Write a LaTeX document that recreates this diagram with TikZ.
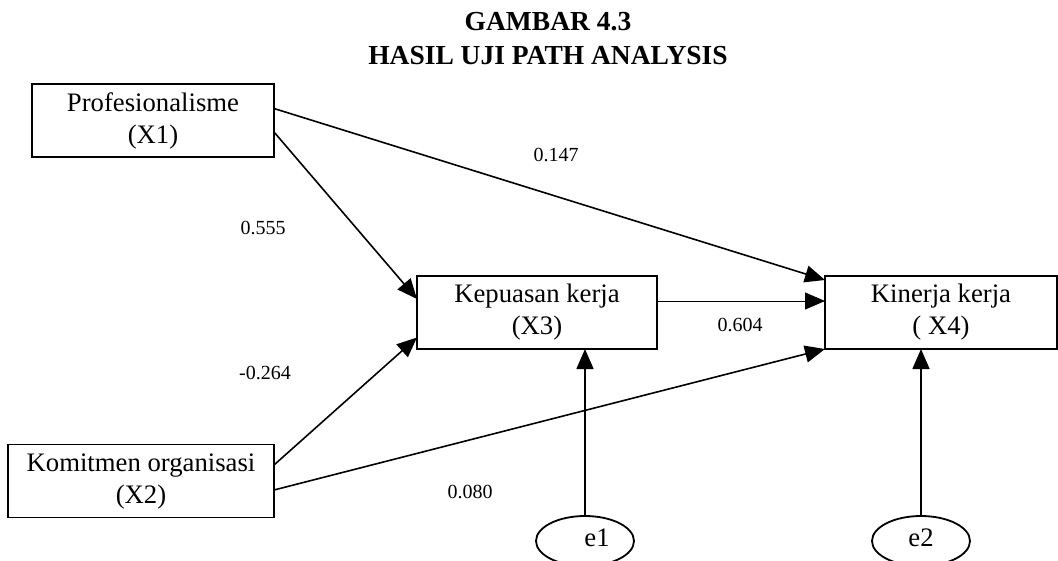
\documentclass[tikz,border=0pt]{standalone}
\usepackage{fontspec}
\setmainfont{Liberation Serif}
\usetikzlibrary{shapes,arrows.meta,positioning,calc}

\begin{document}
\begin{tikzpicture}[
    x=1pt, y=-1pt,
    box/.style = {rectangle, draw, line width=1.8pt, align=center, inner sep=0pt, outer sep=0pt, minimum height=73pt, font=\fontsize{26.7}{32}\selectfont},
    line/.style = {draw, line width=1.6pt, -{Triangle[length=20pt,width=17pt]}},
    errterm/.style = {draw, ellipse, line width=1.8pt, minimum width=98pt, minimum height=50pt, inner sep=0pt, outer sep=0pt, font=\fontsize{26.7}{32}\selectfont},
    coef/.style = {font=\fontsize{20}{24}\selectfont}
]
\useasboundingbox (0,0) rectangle (1058,560);
\node[font=\bfseries\fontsize{27.5}{34}\selectfont, align=center] (judul) at (548,39) {GAMBAR 4.3\\HASIL UJI PATH ANALYSIS};

\node[box, minimum width=242pt] (profesi) at (153,120.5) {Profesionalisme\\(X1)};
\node[box, minimum width=266pt] (komitmen) at (141,481) {Komitmen organisasi\\(X2)};
\node[box, minimum width=240pt] (kepuasan) at (537,312.5) {Kepuasan kerja\\(X3)};
\node[box, minimum width=232pt, right=168pt of kepuasan] (kinerja) {Kinerja kerja\\( X4)};
\node[errterm] (e1) at (585,541) {\hspace*{24pt}\raisebox{6pt}{e1}};
\node[errterm] (e2) at (921,541) {\raisebox{6pt}{e2}};

\node[coef] (b14) at (556,155) {0.147};
\node[coef] (b13) at (263,228) {0.555};
\node[coef] (b23) at (265,373) {-0.264};
\node[coef] (b34) at (740,325) {0.604};
\node[coef] (b24) at (470,492) {0.080};

\path[line] ([yshift=12pt]profesi.east) -- ([yshift=-4pt]kinerja.north west);
\path[line] ([yshift=-11.5pt]profesi.east) -- ([yshift=13.5pt]kepuasan.west);
\path[line] ([yshift=16pt]komitmen.east) -- ([yshift=-25pt]kepuasan.west);
\path[line] ([yshift=-9pt]komitmen.east) -- (kinerja.south west);
\path[line, line width=1pt] ([yshift=11.5pt]kepuasan.east) -- ([yshift=11.5pt]kinerja.west);
\path[line] (e1.north) -- (e1.north |- kepuasan.south);
\path[line] (e2.north) -- (e2.north |- kinerja.south);
\end{tikzpicture}
\end{document}
